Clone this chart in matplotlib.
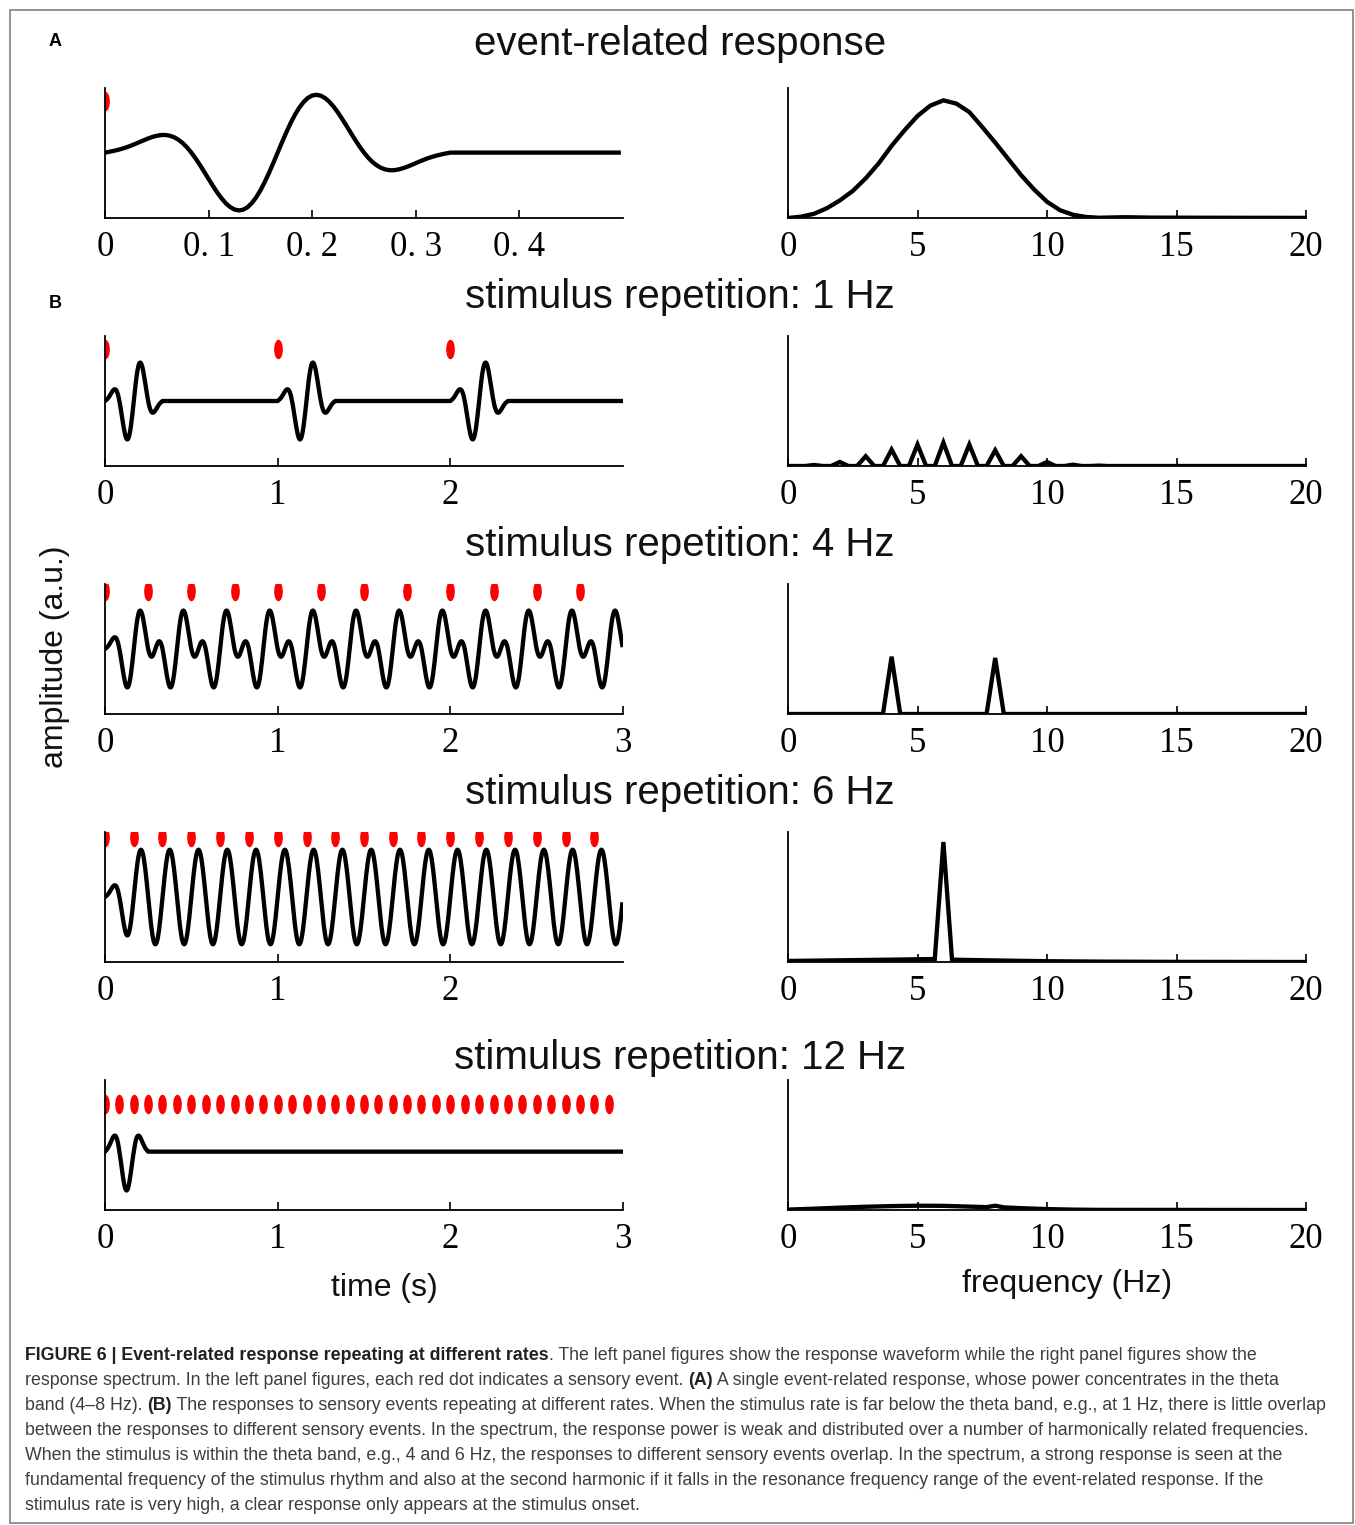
import numpy as np
import matplotlib
matplotlib.use("Agg")
import matplotlib.pyplot as plt
from matplotlib.path import Path
from matplotlib.patches import Rectangle

# ---- data ----
# single event-related response (panel A), sampled every 1/240 s over 1/3 s
fs = 240
erp_kernel = [
    0.000, 0.013, 0.026, 0.042, 0.060, 0.081, 0.105, 0.132, 0.160, 0.188,
    0.215, 0.238, 0.256, 0.267, 0.268, 0.257, 0.234, 0.196, 0.145, 0.079,
    0.000, -0.090, -0.189, -0.294, -0.401, -0.506, -0.606, -0.695, -0.771, -0.828,
    -0.865, -0.879, -0.868, -0.831, -0.768, -0.682, -0.575, -0.448, -0.307, -0.156,
    0.000, 0.156, 0.307, 0.448, 0.575, 0.682, 0.768, 0.831, 0.868, 0.879,
    0.865, 0.828, 0.771, 0.695, 0.606, 0.506, 0.401, 0.294, 0.189, 0.090,
    0.000, -0.079, -0.145, -0.196, -0.234, -0.257, -0.268, -0.267, -0.256, -0.238,
    -0.215, -0.188, -0.160, -0.132, -0.105, -0.081, -0.060, -0.042, -0.026, -0.013,
    0.000,
]

# stimulus onsets (red dots), seconds
onsets_single = [0.0]
onsets_1hz = [0.0, 1.0, 2.0]
onsets_4hz = [0.0, 0.25, 0.5, 0.75, 1.0, 1.25, 1.5, 1.75, 2.0, 2.25, 2.5, 2.75]
onsets_6hz = [0.0, 0.167, 0.333, 0.5, 0.667, 0.833, 1.0, 1.167, 1.333, 1.5,
              1.667, 1.833, 2.0, 2.167, 2.333, 2.5, 2.667, 2.833]
onsets_12hz = [0.0, 0.083, 0.167, 0.25, 0.333, 0.417, 0.5, 0.583, 0.667, 0.75,
               0.833, 0.917, 1.0, 1.083, 1.167, 1.25, 1.333, 1.417, 1.5, 1.583,
               1.667, 1.75, 1.833, 1.917, 2.0, 2.083, 2.167, 2.25, 2.333, 2.417,
               2.5, 2.583, 2.667, 2.75, 2.833, 2.917]

# spectra (amplitude, a.u.)
specA_freq = [0, 0.5, 1, 1.5, 2, 2.5, 3, 3.5, 4, 4.5, 5, 5.5, 6, 6.5, 7, 7.5, 8,
              8.5, 9, 9.5, 10, 10.5, 11, 11.5, 12, 13, 14, 16, 20]
specA_amp = [0.0, 0.010, 0.032, 0.075, 0.135, 0.208, 0.305, 0.420, 0.555, 0.675,
             0.785, 0.865, 0.905, 0.880, 0.815, 0.700, 0.580, 0.455, 0.330, 0.220,
             0.125, 0.060, 0.025, 0.008, 0.002, 0.006, 0.003, 0.002, 0.001]

spec1_peak_freq = [1, 2, 3, 4, 5, 6, 7, 8, 9, 10, 11, 12]
spec1_peak_amp = [0.008, 0.031, 0.075, 0.126, 0.165, 0.180, 0.165, 0.121, 0.075,
                  0.031, 0.010, 0.003]
spec4_peak_freq = [4, 8]
spec4_peak_amp = [0.441, 0.431]

spec6_freq = [0, 2, 4, 5.667, 6, 6.333, 8, 10, 12, 15, 20]
spec6_amp = [0.008, 0.013, 0.018, 0.023, 0.923, 0.018, 0.012, 0.006, 0.003, 0.001, 0.0]

spec12_freq = [0, 1, 2, 3, 4, 5, 6, 7, 7.667, 8, 8.333, 9, 10, 11, 12, 20]
spec12_amp = [0.003, 0.010, 0.018, 0.025, 0.030, 0.033, 0.032, 0.026, 0.022, 0.033,
              0.020, 0.014, 0.007, 0.003, 0.001, 0.0]

rows = ["event-related response", "stimulus repetition: 1 Hz",
        "stimulus repetition: 4 Hz", "stimulus repetition: 6 Hz",
        "stimulus repetition: 12 Hz"]


def repeated_response(onsets, duration):
    n = int(round(duration * fs))
    kern = np.array(erp_kernel)
    sig = np.zeros(n)
    for on in onsets:
        i0 = int(round(on * fs))
        seg = kern[:max(0, min(len(kern), n - i0))]
        sig[i0:i0 + len(seg)] += seg
    return np.arange(n) / fs, sig


def line_spectrum(peak_freq, peak_amp, df=1 / 3):
    f, a = [0.0], [0.0]
    for pf, pa in zip(peak_freq, peak_amp):
        f += [pf - df, pf, pf + df]
        a += [0.0, pa, 0.0]
    f.append(20.0)
    a.append(0.0)
    return f, a


# ---- figure ----
W, H = 1355, 1525
fig = plt.figure(figsize=(W / 100, H / 100), dpi=100)
fig.patches.append(Rectangle((10 / W, 1 - 1523 / H), 1343 / W, 1513 / H,
                             transform=fig.transFigure, fill=False,
                             edgecolor="#808080", linewidth=1.2))

sans = ["Liberation Sans", "DejaVu Sans"]
serif = ["Liberation Serif", "DejaVu Serif"]

ellipse = Path(Path.unit_circle().vertices * [0.4, 1.0], Path.unit_circle().codes)


def make_ax(x0, x1, y0, y1):
    ax = fig.add_axes([x0 / W, 1 - y1 / H, (x1 - x0) / W, (y1 - y0) / H])
    for s in ["top", "right"]:
        ax.spines[s].set_visible(False)
    for s in ["left", "bottom"]:
        ax.spines[s].set_linewidth(1.3)
    ax.set_yticks([])
    ax.tick_params(axis="x", direction="in", length=6, width=1.2, pad=9)
    return ax


row_tops = [88, 336, 584, 832, 1080]
title_y = [44, 297, 545, 793, 1058]

time_cfg = [
    (onsets_single, 0.5, [0, 0.1, 0.2, 0.3, 0.4], ["0", "0. 1", "0. 2", "0. 3", "0. 4"],
     (-0.994, 0.982), 0.898),
    (onsets_1hz, 3.0, [0, 1, 2], ["0", "1", "2"], (-1.484, 1.484), 0.898),
    (onsets_4hz, 3.0, [0, 1, 2, 3], ["0", "1", "2", "3"], (-1.484, 1.484), 0.950),
    (onsets_6hz, 3.0, [0, 1, 2], ["0", "1", "2"], (-1.484, 1.484), 0.965),
    (onsets_12hz, 3.0, [0, 1, 2, 3], ["0", "1", "2", "3"], (-0.976, 1.198), 0.813),
]

spectra = [
    (specA_freq, specA_amp),
    line_spectrum(spec1_peak_freq, spec1_peak_amp),
    line_spectrum(spec4_peak_freq, spec4_peak_amp),
    (spec6_freq, spec6_amp),
    (spec12_freq, spec12_amp),
]

for i, top in enumerate(row_tops):
    bottom = top + 130
    onsets, dur, ticks, labels, ylim, dot_y = time_cfg[i]

    ax = make_ax(105, 623, top, bottom)
    t, sig = repeated_response(onsets, dur)
    ax.plot(t, sig, color="black", lw=3.1, solid_joinstyle="round")
    ax.plot(onsets, [dot_y] * len(onsets), linestyle="none", marker=ellipse,
            markersize=13, color="#ff0000", transform=ax.get_xaxis_transform())
    ax.set_xlim(0, dur)
    ax.set_ylim(*ylim)
    ax.set_xticks(ticks, labels, fontsize=25, family=serif)

    ax2 = make_ax(788, 1306, top, bottom)
    f, a = spectra[i]
    ax2.plot(f, a, color="black", lw=3.1, solid_joinstyle="miter")
    ax2.set_xlim(0, 20)
    ax2.set_ylim(0, 1)
    ax2.set_xticks([0, 5, 10, 15, 20], ["0", "5", "10", "15", "20"],
                   fontsize=25, family=serif)

    fig.text(680 / W, 1 - title_y[i] / H, rows[i], ha="center", va="center",
             fontsize=29, family=sans, color="#111111")

fig.text(55 / W, 1 - 42 / H, "A", ha="center", va="center", fontsize=13,
         fontweight="bold", family=sans)
fig.text(55 / W, 1 - 303 / H, "B", ha="center", va="center", fontsize=13,
         fontweight="bold", family=sans)
fig.text(55 / W, 1 - 657 / H, "amplitude (a.u.)", rotation=90, ha="center",
         va="center", fontsize=23, family=sans, color="#111111")
fig.text(384 / W, 1 - 1288 / H, "time (s)", ha="center", va="center",
         fontsize=23, family=sans, color="#111111")
fig.text(1067 / W, 1 - 1284 / H, "frequency (Hz)", ha="center", va="center",
         fontsize=23, family=sans, color="#111111")

# ---- caption ----
caption = [
    [("FIGURE 6 | Event-related response repeating at different rates", True),
     (". The left panel figures show the response waveform while the right panel figures show the", False)],
    [("response spectrum. In the left panel figures, each red dot indicates a sensory event.", False),
     (" ", False), ("(A)", True),
     (" A single event-related response, whose power concentrates in the theta", False)],
    [("band (4\u20138 Hz).", False), (" ", False), ("(B)", True),
     (" The responses to sensory events repeating at different rates. When the stimulus rate is far below the theta band, e.g., at 1 Hz, there is little overlap", False)],
    [("between the responses to different sensory events. In the spectrum, the response power is weak and distributed over a number of harmonically related frequencies.", False)],
    [("When the stimulus is within the theta band, e.g., 4 and 6 Hz, the responses to different sensory events overlap. In the spectrum, a strong response is seen at the", False)],
    [("fundamental frequency of the stimulus rhythm and also at the second harmonic if it falls in the resonance frequency range of the event-related response. If the", False)],
    [("stimulus rate is very high, a clear response only appears at the stimulus onset.", False)],
]
cap_family = ["Liberation Sans Narrow", "Liberation Sans"]
renderer = fig.canvas.get_renderer()


def text_width(s, bold, size):
    # width of s including leading/trailing spaces
    kw = dict(fontsize=size, family=cap_family, fontweight="bold" if bold else "normal")
    probe = fig.text(0, 0, "|" + s + "|", **kw)
    bar = fig.text(0, 0, "||", **kw)
    w = probe.get_window_extent(renderer).width - bar.get_window_extent(renderer).width
    probe.remove()
    bar.remove()
    return w


# fit the longest caption line between x=25 and x=1338
cap_size = 14.0
longest = sum(text_width(s, b, cap_size) for s, b in caption[2])
cap_size = cap_size * 1313.0 / longest

for k, line in enumerate(caption):
    x = 25.0
    y = 1 - (1354 + 25 * k + 6) / H
    for s, bold in line:
        fig.text(x / W, y, s, fontsize=cap_size, family=cap_family, va="baseline",
                 fontweight="bold" if bold else "normal",
                 color="#231f20" if bold else "#3d3d3d")
        x += text_width(s, bold, cap_size)

fig.savefig("out.png", dpi=100)
